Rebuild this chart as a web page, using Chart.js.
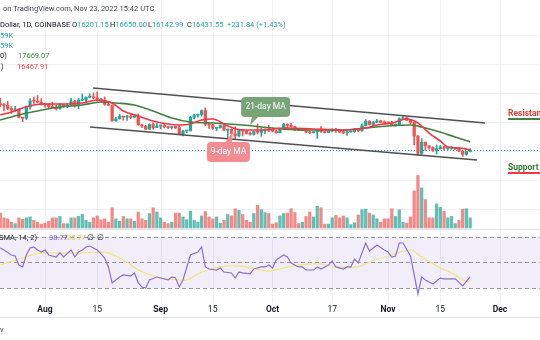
<!DOCTYPE html>
<html>
<head>
<meta charset="utf-8">
<title>BTC/USD 1D</title>
<script src="https://cdn.jsdelivr.net/npm/chart.js@4.4.1/dist/chart.umd.min.js"></script>
<style>
  html, body { margin: 0; padding: 0; background: #ffffff; }
  #box { position: relative; width: 540px; height: 340px; overflow: hidden; font-family: Roboto, "Noto Sans", sans-serif; }
  #chart { position: absolute; left: 0; top: 0; }
  .lbl { position: absolute; white-space: nowrap; font-size: 7.5px; line-height: 10px; color: #131722; }
  .up { color: #26a69a; }
  .side { position: absolute; white-space: nowrap; font-size: 8.5px; line-height: 10px; font-weight: bold; }
  .bar { position: absolute; height: 2px; left: 508px; width: 40px; }
</style>
</head>
<body>
<div id="box">
  <canvas id="chart" width="540" height="340"></canvas>

  <div class="lbl" style="left:3px;top:4px;color:#434651">on TradingView.com, Nov 23, 2022 15:42 UTC</div>
  <div class="lbl" style="left:0px;top:20px">Dollar, 1D, COINBASE</div>
  <div class="lbl" style="left:72px;top:20px">O<span class="up">16201.15</span></div>
  <div class="lbl" style="left:110px;top:20px">H<span class="up">16650.00</span></div>
  <div class="lbl" style="left:148px;top:20px">L<span class="up">16142.99</span></div>
  <div class="lbl" style="left:187px;top:20px">C<span class="up">16431.55</span></div>
  <div class="lbl up" style="left:227px;top:20px">+231.84 (+1.43%)</div>
  <div class="lbl up" style="left:0px;top:31px">59K</div>
  <div class="lbl up" style="left:0px;top:41px">59K</div>
  <div class="lbl" style="left:0px;top:51px">0)</div>
  <div class="lbl" style="left:18px;top:51px;color:#388e3c">17669.07</div>
  <div class="lbl" style="left:1px;top:62px">)</div>
  <div class="lbl" style="left:17px;top:62px;color:#f23645">16467.91</div>

  <div class="lbl" style="left:-1px;top:233px">SMA, 14; 2)</div>
  <div class="lbl" style="left:49px;top:233px;color:#7e57c2">38.77</div>
  <div class="lbl" style="left:67px;top:233px;color:#e6c84a">35.77</div>
  <div class="lbl" style="left:87px;top:233px">∅</div>
  <div class="lbl" style="left:97px;top:233px">∅</div>

  <div class="side" style="left:508px;top:108px;color:#e53935">Resistance Levels</div>
  <div class="bar" style="top:118px;background:#43803f"></div>
  <div class="side" style="left:508px;top:162px;color:#2e7d32">Support Levels</div>
  <div class="bar" style="top:172px;background:#f23645"></div>

  <div class="lbl" style="left:0px;top:325px;color:#434651">v</div>
</div>

<script>
// days counted from Aug 1 2022 (day 0), first candle is Jul 20
const firstDay = -12;

const opens = [
  23410, 23220, 23160, 22680, 22460, 22610, 21360, 21240, 22930, 23840, 23800, 23650,
  23340, 23310, 22980, 22850, 22630, 23290, 22960, 23180, 23810, 23160, 23950, 23960, 24400, 24440, 24310, 24100,
  23850, 23340, 23190, 20830, 21140, 21520, 21400, 21530, 21370, 21560, 20240, 20040, 19560, 20290, 19810,
  20050, 20130, 19950, 19830, 19990, 19810, 18840, 19290, 19330, 21380, 21680, 21770, 22370, 20300, 20240,
  19700, 19770, 20130, 19420, 19540, 18890, 18550, 19410, 19300, 18940, 18800, 19220, 19110, 19430, 19570,
  19430, 19310, 19040, 19620, 20340, 20160, 19960, 19550, 19420, 19450, 19140, 19050, 19160, 19380, 19180,
  19070, 19270, 19550, 19330, 19140, 19050, 19170, 19210, 19570, 19350, 20100, 20770, 20290, 20600, 20820, 20630,
  20500, 20480, 20160, 20210, 21150, 21300, 20910, 20590, 18550, 15920, 17600, 17070, 16810, 16330, 16620,
  16900, 16660, 16690, 16700, 16700, 16280, 15780, 16201.15
];
const highs = [
  24280, 23430, 23760, 22990, 23010, 22660, 21370, 23060, 24180, 24420, 24650, 24180,
  23500, 23450, 23640, 23210, 23450, 23340, 23380, 24230, 23930, 24220, 24900, 24450, 24900, 25050, 25210, 24250,
  24450, 23600, 23200, 21370, 21800, 21530, 21680, 21850, 21820, 21880, 20340, 20150, 20410, 20580, 20480,
  20200, 20440, 19960, 20000, 20040, 20170, 19450, 19440, 21520, 21800, 21850, 22480, 22800, 20550, 20340,
  19880, 20190, 20130, 19640, 19640, 19930, 19490, 19500, 19300, 19180, 19310, 20360, 19780, 19630, 20170,
  19480, 19390, 19700, 20470, 20370, 20450, 20060, 19620, 19530, 19530, 19260, 19220, 19520, 19950, 19220,
  19420, 19680, 19700, 19350, 19350, 19250, 19250, 19690, 19600, 20410, 21020, 20870, 20750, 21080, 20920, 20840,
  20700, 20800, 20390, 21300, 21480, 21360, 20990, 20670, 18590, 18150, 17650, 17070, 16920, 17190, 17130,
  16990, 16760, 17000, 16810, 16750, 16300, 16260, 16650.00
];
const lows = [
  23000, 22340, 22500, 21950, 22270, 21260, 20710, 21040, 22600, 23440, 23520, 23230,
  22850, 22670, 22710, 22450, 22590, 22920, 22840, 23150, 22880, 22670, 23870, 23600, 24300, 24150, 23780, 23700,
  23200, 23110, 20790, 20760, 21080, 20930, 20890, 21160, 21310, 20160, 19810, 19560, 19560, 19560, 19800,
  19650, 19760, 19650, 19600, 19640, 18760, 18550, 19020, 19310, 21120, 21380, 21560, 20090, 19680, 19540,
  19330, 19760, 19390, 18270, 18930, 18130, 18390, 18550, 18830, 18660, 18680, 18850, 18500, 18890, 19160,
  19170, 18960, 19010, 19500, 19750, 19870, 19340, 19360, 19330, 19060, 18880, 18980, 18190, 19080, 18990,
  19070, 19160, 19100, 19030, 18900, 18650, 19110, 19080, 19160, 19240, 20070, 20200, 20010, 20560, 20520, 20250,
  20350, 20060, 20040, 20180, 21080, 20900, 20400, 17170, 15590, 15780, 16370, 16550, 16230, 15820, 16540,
  16400, 16420, 16550, 16560, 16180, 15480, 15620, 16142.99
];
const closes = [
  23220, 23160, 22680, 22460, 22610, 21360, 21240, 22930, 23840, 23800, 23650, 23340,
  23310, 22980, 22850, 22630, 23290, 22960, 23180, 23810, 23160, 23950, 23960, 24400, 24440, 24310, 24100, 23850,
  23340, 23190, 20830, 21140, 21520, 21400, 21530, 21370, 21560, 20240, 20040, 19560, 20290, 19810, 20050,
  20130, 19950, 19830, 19990, 19810, 18840, 19290, 19330, 21380, 21680, 21770, 22370, 20300, 20240, 19700,
  19770, 20130, 19420, 19540, 18890, 18550, 19410, 19300, 18940, 18800, 19220, 19110, 19430, 19570, 19430,
  19310, 19040, 19620, 20340, 20160, 19960, 19550, 19420, 19450, 19140, 19050, 19160, 19380, 19180, 19070,
  19270, 19550, 19330, 19140, 19050, 19170, 19210, 19570, 19350, 20100, 20770, 20290, 20600, 20820, 20630, 20500,
  20480, 20160, 20210, 21150, 21300, 20910, 20590, 18550, 15920, 17600, 17070, 16810, 16330, 16620, 16900,
  16660, 16690, 16700, 16700, 16280, 15780, 16200, 16431.55
];
// volume, thousand BTC
const volumes = [
  31, 21, 19, 12, 9, 21, 18, 21, 23, 16, 12, 8,
  10, 14, 21, 21, 24, 9, 9, 21, 21, 24, 28, 16, 12, 21, 25, 17, 19, 12, 42, 19, 14, 24, 19, 19, 14, 33, 19, 16, 30, 42, 33,
  21, 12, 9, 12, 31, 31, 23, 17, 35, 16, 12, 25, 34, 23, 19, 23, 10, 16, 28, 25, 40, 37, 28, 16, 12, 30, 47, 38, 32,
  30, 8, 11, 25, 30, 31, 40, 32, 9, 12, 24, 33, 23, 45, 42, 8, 8, 21, 26, 21, 25, 21, 7, 11, 27, 38, 39, 31, 27, 19,
  12, 19, 19, 40, 24, 38, 12, 10, 23, 77, 109, 83, 59, 21, 21, 50, 43, 35, 21, 24, 9, 16, 39, 40, 21
];

const ma9Days = [-12, -9, -6, -3, 0, 5, 10, 14, 18, 21, 25, 29, 33, 36, 39, 42, 45, 49, 53, 58, 65, 72, 80, 86, 89, 93, 97, 100, 103, 106, 108, 111, 114];
const ma9Values = [21720, 22170, 22770, 23230, 23380, 23380, 23530, 23980, 23530, 22320, 21560, 20810, 20360, 20210, 20360, 20960, 21110, 20060, 19450, 19450, 19750, 19600, 19450, 19750, 20210, 20510, 21110, 20510, 18990, 17790, 16880, 16730, 16467.91];
const ma21Days = [-12, -7, -2, 4, 10, 15, 19, 24, 29, 34, 39, 45, 53, 61, 70, 80, 86, 92, 98, 101, 105, 110, 114];
const ma21Values = [20960, 21720, 22320, 22920, 23230, 23680, 23530, 23230, 22320, 21260, 20660, 20510, 20210, 19750, 19450, 19450, 19750, 20060, 20210, 19900, 19300, 18390, 17669.07];

const channelTopDays = [12.9, 118];
const channelTopPrices = [25790, 20510];
const channelBottomDays = [12.1, 115.8];
const channelBottomPrices = [19900, 14920];

const rsiDays = [-12, -11, -9, -8, -7, -6, -5, -4, -3, -2, -1, 0, 1, 3, 4, 5, 7, 8, 9, 10, 11, 12, 13, 14, 15, 16, 17, 18, 20, 21, 23, 24, 25, 26, 27, 28, 30, 31, 33, 34, 35, 36, 37, 39, 41, 42, 43, 44, 46, 47, 48, 50, 51, 52, 53, 55, 56, 58, 59, 60, 61, 62, 64, 65, 66, 68, 69, 70, 72, 73, 74, 76, 77, 78, 80, 81, 82, 83, 84, 86, 87, 89, 91, 92, 93, 94, 95, 96, 98, 100, 101, 102, 104, 106, 107, 110, 112, 114];
const rsiValues = [61.4, 59.8, 55.9, 55.1, 48.0, 46.5, 55.9, 61.4, 62.2, 59.8, 58.2, 59.8, 55.9, 54.3, 57.5, 54.3, 59.8, 54.3, 58.2, 59.8, 62.2, 62.9, 61.4, 59.8, 56.7, 53.5, 46.5, 33.9, 38.6, 40.2, 39.4, 41.8, 33.9, 30.8, 30.0, 36.3, 38.6, 37.8, 36.3, 38.6, 37.8, 30.8, 36.3, 55.9, 58.2, 62.2, 46.5, 44.9, 44.1, 45.7, 42.5, 41.8, 37.8, 42.5, 41.8, 41.0, 44.9, 46.5, 46.5, 48.0, 45.7, 52.0, 55.9, 54.3, 49.6, 46.5, 46.5, 44.1, 44.1, 46.5, 44.9, 48.0, 51.2, 46.5, 44.9, 46.5, 46.5, 52.7, 49.6, 65.3, 59.0, 63.7, 59.8, 58.2, 54.3, 55.1, 65.3, 65.3, 55.1, 25.3, 38.6, 36.3, 33.1, 37.8, 37.1, 37.1, 31.6, 38.77];
const rsiMaDays = [-12, -7, -1, 4, 9, 15, 17, 22, 25, 31, 36, 38, 42, 47, 52, 58, 60, 64, 68, 74, 78, 84, 87, 92, 98, 101, 106, 109, 113, 114];
const rsiMaValues = [48.0, 52.7, 57.5, 57.5, 57.5, 58.2, 57.5, 50.4, 44.1, 37.8, 36.3, 36.3, 42.5, 46.5, 47.3, 44.1, 43.3, 45.7, 48.0, 48.8, 46.5, 46.5, 50.4, 55.1, 59.8, 54.3, 45.7, 41.8, 34.7, 35.77];

const tickDays = [0, 14, 31, 45, 61, 77, 92, 106, 122];
const tickLabels = ['Aug', '15', 'Sep', '15', 'Oct', '17', 'Nov', '15', 'Dec'];
const priceGridLevels = [7500, 11900, 16300, 20650, 25050, 29400, 33800];
const rsiLevels = [70, 50, 30];
const lastPrice = 16431.55;

// ---- build datasets ----
const UP = '#26a69a', DOWN = '#ef5350';
const candleColors = [], volColors = [];
const bodies = [], wicks = [], vols = [];
for (let i = 0; i < closes.length; i++) {
  const d = firstDay + i;
  const up = closes[i] >= opens[i];
  candleColors.push(up ? UP : DOWN);
  volColors.push(up ? 'rgba(38,166,154,0.72)' : 'rgba(239,83,80,0.68)');
  bodies.push({ x: d, y: [opens[i], closes[i]] });
  wicks.push({ x: d, y: [lows[i], highs[i]] });
  vols.push({ x: d, y: [0, volumes[i]] });
}
const pts = (xs, ys) => xs.map((x, i) => ({ x: x, y: ys[i] }));

function roundRect(ctx, x, y, w, h, r) {
  ctx.beginPath();
  ctx.moveTo(x + r, y);
  ctx.lineTo(x + w - r, y); ctx.quadraticCurveTo(x + w, y, x + w, y + r);
  ctx.lineTo(x + w, y + h - r); ctx.quadraticCurveTo(x + w, y + h, x + w - r, y + h);
  ctx.lineTo(x + r, y + h); ctx.quadraticCurveTo(x, y + h, x, y + h - r);
  ctx.lineTo(x, y + r); ctx.quadraticCurveTo(x, y, x + r, y);
  ctx.closePath();
}

const tvDecor = {
  id: 'tvDecor',
  beforeDatasetsDraw(chart) {
    const { ctx, scales } = chart;
    const sx = scales.x, sp = scales.y, sr = scales.yRsi;
    ctx.save();
    ctx.lineWidth = 1;
    // grid
    ctx.strokeStyle = '#eff1f5';
    tickDays.forEach(d => {
      const px = Math.round(sx.getPixelForValue(d)) + 0.5;
      ctx.beginPath(); ctx.moveTo(px, 0); ctx.lineTo(px, 302); ctx.stroke();
    });
    priceGridLevels.forEach(p => {
      const py = Math.round(sp.getPixelForValue(p)) + 0.5;
      if (py > 229) return;
      ctx.beginPath(); ctx.moveTo(0, py); ctx.lineTo(540, py); ctx.stroke();
    });
    // pane borders
    ctx.strokeStyle = '#e0e3eb';
    [229.5, 317.5].forEach(py => { ctx.beginPath(); ctx.moveTo(0, py); ctx.lineTo(540, py); ctx.stroke(); });
    // RSI band
    const y70 = sr.getPixelForValue(rsiLevels[0]), y30 = sr.getPixelForValue(rsiLevels[2]);
    ctx.fillStyle = 'rgba(126,87,194,0.1)';
    ctx.fillRect(0, y70, 540, y30 - y70);
    ctx.strokeStyle = '#9598a1';
    ctx.setLineDash([4, 3]);
    rsiLevels.forEach(v => {
      const py = Math.round(sr.getPixelForValue(v)) + 0.5;
      ctx.beginPath(); ctx.moveTo(0, py); ctx.lineTo(540, py); ctx.stroke();
    });
    // last price line
    ctx.strokeStyle = UP;
    ctx.setLineDash([1, 2]);
    const lp = Math.round(sp.getPixelForValue(lastPrice)) + 0.5;
    ctx.beginPath(); ctx.moveTo(0, lp); ctx.lineTo(540, lp); ctx.stroke();
    ctx.restore();
  },
  afterDatasetsDraw(chart) {
    const { ctx, scales } = chart;
    const sx = scales.x, sp = scales.y;
    ctx.save();
    // 21-day MA callout
    let tx = sx.getPixelForValue(55), ty = sp.getPixelForValue(20210);
    ctx.fillStyle = '#79a478';
    roundRect(ctx, tx - 9, ty - 28, 49, 20, 4); ctx.fill();
    ctx.beginPath(); ctx.moveTo(tx + 2, ty - 9); ctx.lineTo(tx + 9, ty - 9); ctx.lineTo(tx, ty); ctx.closePath(); ctx.fill();
    ctx.fillStyle = '#ffffff';
    ctx.font = '8.5px Roboto, sans-serif';
    ctx.textAlign = 'center'; ctx.textBaseline = 'middle';
    ctx.fillText('21-day MA', tx - 9 + 24.5, ty - 18);
    // 9-day MA callout
    tx = sx.getPixelForValue(50.4); ty = sp.getPixelForValue(19450);
    ctx.fillStyle = '#f28c91';
    roundRect(ctx, tx - 26, ty + 12, 43, 20, 4); ctx.fill();
    ctx.beginPath(); ctx.moveTo(tx - 8, ty + 13); ctx.lineTo(tx - 1, ty + 13); ctx.lineTo(tx, ty + 1); ctx.closePath(); ctx.fill();
    ctx.fillStyle = '#ffffff';
    ctx.fillText('9-day MA', tx - 26 + 21.5, ty + 22);
    // time axis labels
    ctx.fillStyle = '#131722';
    tickDays.forEach((d, i) => {
      const bold = isNaN(parseInt(tickLabels[i]));
      ctx.font = (bold ? 'bold ' : '') + '8.5px Roboto, sans-serif';
      ctx.fillText(tickLabels[i], sx.getPixelForValue(d), 310);
    });
    ctx.restore();
  }
};

new Chart(document.getElementById('chart'), {
  type: 'bar',
  data: {
    datasets: [
      { type: 'line', label: 'RSI', data: pts(rsiDays, rsiValues), yAxisID: 'yRsi', borderColor: '#8b6fd1', borderWidth: 1.2, pointRadius: 0, tension: 0, order: 1 },
      { type: 'line', label: 'RSI MA', data: pts(rsiMaDays, rsiMaValues), yAxisID: 'yRsi', borderColor: '#f3e37a', borderWidth: 1.2, pointRadius: 0, tension: 0.3, order: 2 },
      { type: 'line', label: 'Channel top', data: pts(channelTopDays, channelTopPrices), yAxisID: 'y', borderColor: '#505050', borderWidth: 1.6, pointRadius: 0, order: 3 },
      { type: 'line', label: 'Channel bottom', data: pts(channelBottomDays, channelBottomPrices), yAxisID: 'y', borderColor: '#505050', borderWidth: 1.6, pointRadius: 0, order: 3 },
      { type: 'line', label: 'MA 9', data: pts(ma9Days, ma9Values), yAxisID: 'y', borderColor: '#f23645', borderWidth: 1.6, pointRadius: 0, cubicInterpolationMode: 'monotone', order: 4 },
      { type: 'line', label: 'MA 21', data: pts(ma21Days, ma21Values), yAxisID: 'y', borderColor: '#43803f', borderWidth: 1.6, pointRadius: 0, cubicInterpolationMode: 'monotone', order: 5 },
      { type: 'bar', label: 'Body', data: bodies, yAxisID: 'y', backgroundColor: candleColors, barThickness: 2.6, minBarLength: 1, grouped: false, order: 6 },
      { type: 'bar', label: 'Wick', data: wicks, yAxisID: 'y', backgroundColor: candleColors, barThickness: 1, grouped: false, order: 7 },
      { type: 'bar', label: 'Volume', data: vols, yAxisID: 'yVol', backgroundColor: volColors, barThickness: 2.6, grouped: false, order: 8 }
    ]
  },
  options: {
    responsive: false,
    animation: false,
    devicePixelRatio: 1,
    layout: { padding: 0 },
    plugins: { legend: { display: false }, tooltip: { enabled: false } },
    scales: {
      x: { type: 'linear', display: false, offset: false, min: -12.066, max: 132.73 },
      y: { type: 'linear', display: false, min: -12259, max: 39081 },
      yVol: { type: 'linear', axis: 'y', display: false, min: -232.4, max: 473 },
      yRsi: { type: 'linear', axis: 'y', display: false, min: -10.8, max: 255.9 }
    }
  },
  plugins: [tvDecor]
});
</script>
</body>
</html>
